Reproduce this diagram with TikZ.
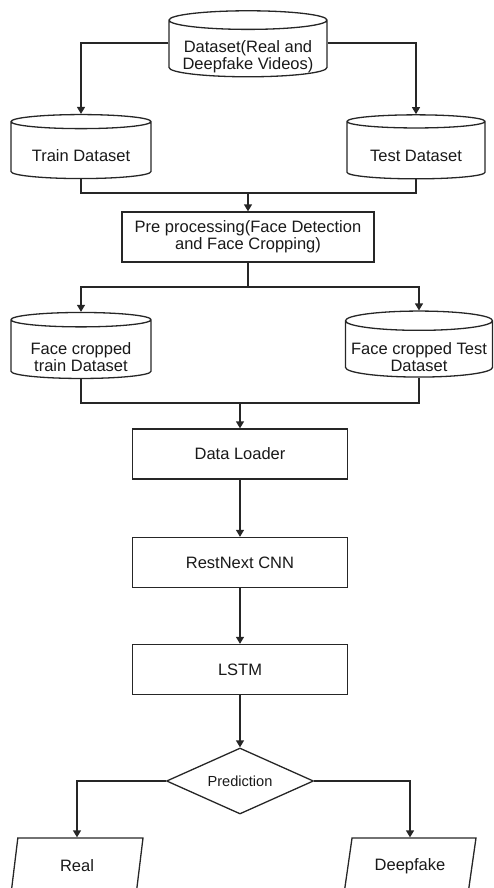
\documentclass[tikz,border=0pt]{standalone}
\usepackage{fontspec}
\setmainfont{Liberation Sans}
\usetikzlibrary{shapes.geometric,arrows.meta}

% text set low in a cylinder, below its top cap
\newcommand{\dblabel}[2]{\raisebox{-#1}[\height][\depth]{\begin{tabular}{@{}c@{}}#2\end{tabular}}}

\tikzset{
  txt/.style={font=\fontsize{16.5}{17}\selectfont, align=center, text=black!90},
  db/.style={txt, draw, cylinder, shape border rotate=90, aspect=0.14,
    minimum width=140pt, minimum height=64pt, inner sep=1pt},
  box/.style={txt, draw, rectangle, minimum width=215pt, minimum height=50pt},
  decide/.style={draw, diamond, aspect=2.2, minimum width=147pt, minimum height=66pt,
    inner sep=0pt, font=\fontsize{14.6}{16}\selectfont, text=black!90},
  result/.style={txt, draw, trapezium, trapezium left angle=70, trapezium right angle=110,
    trapezium stretches body, minimum width=132pt, minimum height=56pt},
  arr/.style={-{Triangle[width=8pt,length=7pt]}}
}

\begin{document}
\begin{tikzpicture}[x=1pt,y=1pt,line width=1.3pt,draw=black!85]
\useasboundingbox (0,0) rectangle (493,-888);

% Datasets
\node [db, minimum width=158pt, minimum height=66pt] (data) at (248,-49.5) {\dblabel{8pt}{Dataset(Real and\\Deepfake Videos)}};
\node [db] (train) at (81,-151) {\dblabel{7pt}{Train Dataset}};
\node [db, minimum width=138pt] (test) at (416,-151) {\dblabel{7pt}{Test Dataset}};

% Pre processing
\node [box, minimum width=252pt] (pre) at (248,-237) {Pre processing(Face Detection\\and Face Cropping)};

% Face cropped datasets
\node [db, minimum height=66pt] (fctrain) at (81,-350) {\dblabel{10pt}{Face cropped\\train Dataset}};
\node [db, minimum height=66pt, minimum width=147pt] (fctest) at (419,-350) {\dblabel{10pt}{Face cropped Test\\Dataset}};

% Model
\node [box] (loader) at (240,-454) {Data Loader};
\node [box] (cnn) at (240,-562.5) {RestNext CNN};
\node [box] (lstm) at (240,-669.5) {LSTM};
\node [decide] (pred) at (240,-781) {Prediction};

% Outputs
\node [result] (real) at (77,-866) {Real};
\node [result] (fake) at (410,-866) {Deepfake};

% Joints
\coordinate (m1) at (248,-193);
\coordinate (s1) at (248,-287);
\coordinate (m2) at (240,-403);

% Connections
\draw [arr] ([yshift=6.5pt]data.west) -| (train.north);
\draw [arr] ([yshift=6.5pt]data.east) -| (test.north);
\draw (train.south) |- (m1) -| (test.south);
\draw [arr] (m1) -- (pre.north);
\draw (pre.south) -- (s1);
\draw [arr] (s1) -| (fctrain.north);
\draw [arr] (s1) -| (fctest.north);
\draw (fctrain.south) |- (m2) -| (fctest.south);
\draw [arr] (m2) -- (loader.north);

\foreach \a/\b in {loader/cnn,cnn/lstm,lstm/pred}
\draw [arr] (\a) -- (\b);

\draw [arr] (pred.west) -| (real.north);
\draw [arr] (pred.east) -| (fake.north);

\end{tikzpicture}
\end{document}
